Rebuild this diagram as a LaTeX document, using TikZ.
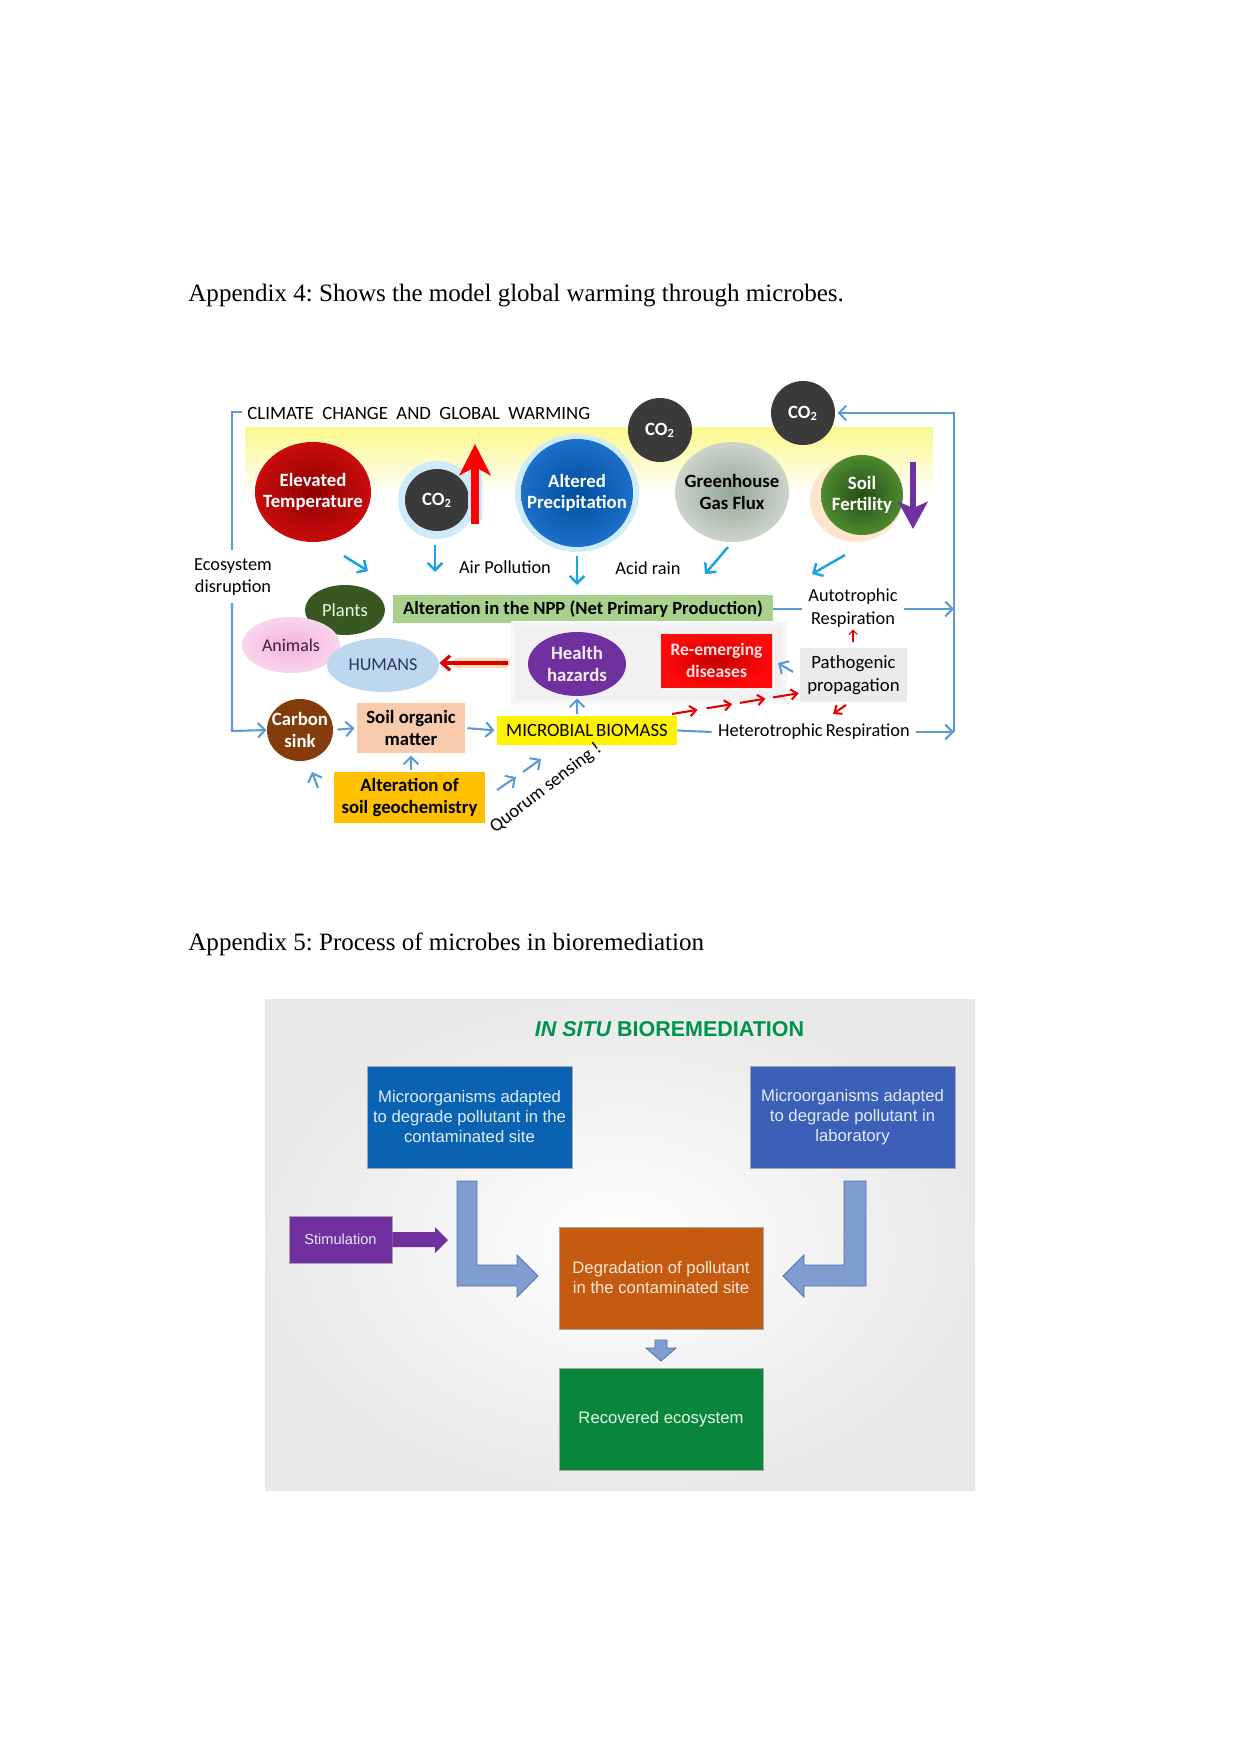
\documentclass[tikz,border=0pt]{standalone}
\usepackage{fontspec}
\setmainfont{Liberation Serif}
\newfontfamily\calfont{Carlito}
\newfontfamily\arifont{Liberation Sans}
\usetikzlibrary{shapes.geometric,arrows.meta,calc}
\definecolor{frameblue}{RGB}{91,155,213}
\definecolor{cyanarr}{RGB}{28,163,228}
\definecolor{co2grey}{RGB}{58,58,58}
\definecolor{nppgreen}{RGB}{169,209,142}
\definecolor{somskin}{RGB}{248,203,173}
\definecolor{geoorange}{RGB}{255,192,0}
\definecolor{healthpurple}{RGB}{112,48,160}
\definecolor{carbonbrown}{RGB}{132,60,12}
\definecolor{plantgreen}{RGB}{56,87,35}
\definecolor{humanblue}{RGB}{189,215,238}
\definecolor{animalpink}{RGB}{244,178,222}
\definecolor{elevin}{RGB}{145,0,0}
\definecolor{elevout}{RGB}{200,12,12}
\definecolor{precin}{RGB}{0,78,158}
\definecolor{precout}{RGB}{28,112,200}
\definecolor{ghgin}{RGB}{150,166,150}
\definecolor{ghgout}{RGB}{204,212,204}
\definecolor{soilin}{RGB}{38,78,20}
\definecolor{soilout}{RGB}{78,138,48}
\definecolor{reemin}{RGB}{200,0,0}
\definecolor{reemout}{RGB}{255,10,10}
\definecolor{yband}{RGB}{250,248,140}
\definecolor{leftblue}{RGB}{10,99,178}
\definecolor{rightblue}{RGB}{60,96,184}
\definecolor{stimpurple}{RGB}{112,48,160}
\definecolor{larrfill}{RGB}{127,157,208}
\definecolor{larrline}{RGB}{84,112,170}
\definecolor{degorange}{RGB}{197,90,17}
\definecolor{recgreen}{RGB}{8,135,60}
\definecolor{titlegreen}{RGB}{0,146,72}
\definecolor{lbtext}{RGB}{225,236,248}
\definecolor{ortext}{RGB}{253,233,217}
\definecolor{grtext}{RGB}{230,245,230}
\definecolor{humantext}{RGB}{40,55,90}
\definecolor{animaltext}{RGB}{60,30,60}
\tikzset{
  wh/.style 2 args={minimum width=#1*0.4795pt,minimum height=#2*0.4795pt},
  ftxt/.style={font=\calfont\fontsize{8.8}{10.7}\selectfont,align=center,inner sep=1pt},
  fbold/.style={font=\calfont\bfseries\fontsize{9}{10.2}\selectfont,align=center},
  fboldsm/.style={font=\calfont\bfseries\fontsize{9}{10.7}\selectfont,align=center},
  blob/.style={ellipse,inner xsep=-14pt,inner ysep=-8pt,align=center},
  rbox/.style={rectangle,inner sep=0pt,align=center},
  frame/.style={draw=frameblue,line width=1pt},
  farr/.style={frame,-{Straight Barb[length=3.5pt,width=7pt]}},
  carr/.style={draw=cyanarr,line width=1.2pt,-{Straight Barb[length=3.5pt,width=7pt]}},
  rarr/.style={draw=red!90!black,line width=1pt,-{Straight Barb[length=3pt,width=5pt]}},
  box2/.style={rectangle,inner sep=0pt,align=center,draw=black!35,line width=0.3pt,font=\arifont\fontsize{8}{9.6}\selectfont},
  blockarr/.style={fill=larrfill,draw=larrline,line width=0.4pt},
}
\begin{document}
\frenchspacing
\begin{tikzpicture}[x=0.4795pt,y=-0.4795pt]
\useasboundingbox (0,0) rectangle (1241,1754);
\fill[white] (0,0) rectangle (1241,1754);

% ---------- captions ----------
\node[anchor=base west,inner sep=0pt,font=\fontsize{12}{14}\selectfont] (cap4) at (188,302) {Appendix 4: Shows the model global warming through microbes.};
\node[anchor=base west,inner sep=0pt,font=\fontsize{12}{14}\selectfont] (cap5) at (188,950) {Appendix 5: Process of microbes in bioremediation};

% ---------- figure 1 ----------
\shade[top color=yband, bottom color=white] (245,428) rectangle (933,494);
\node[anchor=west,inner sep=0pt,font=\calfont\fontsize{9}{10}\selectfont] (cc) at (247,413) {CLIMATE\ \ CHANGE\ \ AND\ \ GLOBAL\ \ WARMING};

% glows
\fill[cyanarr!22] (437,500) circle[radius=39];
\fill[cyanarr!22] (577,493) ellipse[x radius=62,y radius=59];
\fill[orange!20] (856,500) ellipse[x radius=46,y radius=42];

\node[blob,wh={116}{100},shading=radial,inner color=elevin,outer color=elevout,text=white,fbold] (elev) at (313,492) {Elevated\\Temperature};
\node[blob,wh={64}{62},fill=co2grey,text=white,fbold] (co2a) at (437,500) {CO\textsubscript{2}};
\node[blob,wh={112}{108},shading=radial,inner color=precin,outer color=precout,text=white,fbold] (altp) at (577,493) {Altered\\Precipitation};
\node[blob,wh={64}{64},fill=co2grey,text=white,fbold] (co2b) at (660,430) {CO\textsubscript{2}};
\node[blob,wh={114}{100},shading=radial,inner color=ghgin,outer color=ghgout,text=black,fbold] (ghg) at (732,492) {Greenhouse\\Gas Flux};
\node[blob,wh={64}{64},fill=co2grey,text=white,fbold] (co2c) at (803,413) {CO\textsubscript{2}};
\node[blob,wh={82}{80},shading=radial,inner color=soilin,outer color=soilout,text=white,fbold] (soilf) at (862,495) {Soil\\Fertility};

\coordinate (redA) at (475,524);
\coordinate (redB) at (475,444);
\draw[cyanarr!25,line width=7pt] (475,520) -- (475,458);
\draw[red,line width=4pt,-{Stealth[length=15pt,width=15pt,inset=4pt]}] (redA) -- (redB);
\coordinate (purA) at (913,462);
\coordinate (purB) at (913,529);
\draw[healthpurple,line width=3pt,-{Stealth[length=13pt,width=14pt,inset=3pt]}] (purA) -- (purB);

% small cyan arrows
\coordinate (a1s) at (344,556); \coordinate (a1e) at (368,571);
\coordinate (a2s) at (435,545); \coordinate (a2e) at (435,572);
\coordinate (a3s) at (577,556); \coordinate (a3e) at (577,585);
\coordinate (a4s) at (728,547); \coordinate (a4e) at (705,574);
\coordinate (a5s) at (845,555); \coordinate (a5e) at (812,574);
\draw[carr] (a1s) -- (a1e);
\draw[carr] (a2s) -- (a2e);
\draw[carr] (a3s) -- (a3e);
\draw[carr] (a4s) -- (a4e);
\draw[carr] (a5s) -- (a5e);

\node[ftxt] (airp) at (505,567) {Air Pollution};
\node[ftxt] (acid) at (648,568) {Acid rain};
\node[ftxt] (eco) at (233,577) {Ecosystem\\disruption};

% blobs of the lower part
\node[blob,wh={80}{50},fill=plantgreen,text=white!88!green,font=\calfont\fontsize{8.9}{10}\selectfont] (plants) at (345,610) {Plants};
\node[blob,wh={98}{56},shading=radial,inner color=animalpink,outer color=animalpink!55,text=animaltext,font=\calfont\fontsize{8.6}{10}\selectfont] (animals) at (291,645) {Animals};
\node[blob,wh={112}{54},fill=humanblue,text=humantext,font=\calfont\fontsize{8.7}{10}\selectfont] (humans) at (383,665) {HUMANS};

\node[rbox,wh={380}{28},fill=nppgreen,font=\calfont\bfseries\fontsize{8.9}{10}\selectfont] (npp) at (583,609) {Alteration in the NPP (Net Primary Production)};
\node[ftxt] (auto) at (853,608) {Autotrophic\\Respiration};

% grey panel
\fill[gray!6] (511,621) rectangle (787,704);
\fill[gray!11] (515,625) rectangle (783,700);
\node[blob,wh={98}{64},fill=healthpurple,text=white!92!healthpurple,fbold] (health) at (577,664) {Health\\hazards};
\node[rbox,wh={111}{53},shading=radial,inner color=reemin,outer color=reemout,text=white!88!red,font=\calfont\bfseries\fontsize{8.4}{10.5}\selectfont] (reem) at (716.5,660.5) {Re-emerging\\diseases};
\node[rbox,wh={107}{54},fill=gray!16,font=\calfont\fontsize{9}{10.7}\selectfont] (patho) at (853.5,675) {Pathogenic\\propagation};

\coordinate (rglA) at (509,663);
\draw[orange!30,line width=5pt,line cap=round] (505,663) -- (458,663);
\draw[red!85!black,line width=1.5pt,-{Straight Barb[length=4pt,width=7pt]}] (health.west |- rglA) ++(-20,0) coordinate (rgs) -- (humans.east |- rglA);

\node[blob,wh={66}{62},fill=carbonbrown,text=white,fboldsm] (carbon) at (300,730) {Carbon\\sink};
\node[rbox,wh={108}{50},fill=somskin,fboldsm] (som) at (411,728) {Soil organic\\matter};
\node[rbox,wh={180}{29},fill=yellow,font=\calfont\fontsize{9}{10}\selectfont] (micro) at (587,730.5) {MICROBIAL\,BIOMASS};
\node[ftxt] (hetero) at (814,732) {Heterotrophic\,Respiration};
\node[rbox,wh={151}{51},fill=geoorange,fboldsm] (geo) at (409.5,797.5) {Alteration of\\soil geochemistry};
\node[rotate=37.6,font=\calfont\fontsize{9}{10}\selectfont,inner sep=0pt] (quorum) at (546,788) {Quorum sensing !};

% frame
\coordinate (fL0) at (242,412);
\coordinate (fL1) at (232,412);
\coordinate (fL2) at (232,550);
\coordinate (fL3) at (232,603);
\coordinate (fL4) at (232,731);
\coordinate (fRtop) at (954,413);
\coordinate (fRa) at (954,609);
\coordinate (fRh) at (954,732);
\draw[frame] (fL0) -- (fL1) -- (fL2);
\draw[farr] (fL3) -- (fL4) -- (carbon.west);
\draw[farr] (fRh) -- (fRtop) -- ([xshift=1pt]co2c.east);
\draw[frame] (npp.east) -- ([xshift=-2pt]auto.west |- npp.east);
\draw[farr] ([xshift=2pt]auto.east |- fRa) -- (fRa);
\draw[frame] (micro.east) -- ([xshift=-2pt]hetero.west);
\draw[farr] ([xshift=2pt]hetero.east) -- (fRh);
\draw[farr,shorten <=2pt,shorten >=1pt] (carbon.east) -- (som.west);
\draw[farr,shorten <=1pt,shorten >=1pt] (som.east) -- (micro.west);
\draw[farr,shorten <=1pt,shorten >=1pt] (geo.north -| som.south) -- (som.south);
\draw[farr,shorten <=1pt,shorten >=1pt] (micro.north -| health.south) -- (health.south);
\coordinate (gcs) at (318,788); \coordinate (gce) at (312,772);
\draw[farr] (gcs) -- (gce);
\coordinate (pr1) at (793,672); \coordinate (pr2) at (778,663);
\draw[farr] (pr1) -- (pr2);
\coordinate (q1s) at (497,790); \coordinate (q1e) at (516,777);
\coordinate (q2s) at (523,772); \coordinate (q2e) at (541,759);
\draw[farr] (q1s) -- (q1e);
\draw[farr] (q2s) -- (q2e);

% red arrows
\coordinate (rdA) at (672,714);
\coordinate (rdB) at (800,693);
\foreach \t in {0,0.27,0.53,0.79}{
  \draw[rarr] ($(rdA)!\t!(rdB)$) -- ($(rdA)!\t+0.2!(rdB)$);
}
\coordinate (rh1) at (846,705); \coordinate (rh2) at (833,714);
\draw[rarr] (rh1) -- (rh2);
\draw[draw=red!90!black,line width=0.5pt,-{Straight Barb[length=2pt,width=4pt]}] (patho.north -| auto.south) ++(0,-6) coordinate (ra1) -- (auto.south);

% ---------- figure 2 ----------
\shade[inner color=white,outer color=gray!17] (265,999) rectangle (975,1490);
\node[font=\arifont\bfseries\fontsize{10.3}{12}\selectfont,text=titlegreen,inner sep=0pt] (title2) at (669.5,1029) {{\itshape IN SITU} BIOREMEDIATION};

\node[box2,wh={205}{102},fill=leftblue,text=lbtext] (mleft) at (469.5,1117) {Microorganisms adapted\\to degrade pollutant in the\\contaminated site};
\node[box2,wh={205}{102},fill=rightblue,text=lbtext] (mright) at (852.5,1117) {Microorganisms adapted\\to degrade pollutant in\\laboratory};
\node[box2,wh={103}{47},fill=stimpurple,text=lbtext,font=\arifont\fontsize{7}{9}\selectfont] (stim) at (340.5,1239.5) {Stimulation};
\node[box2,wh={204}{102},fill=degorange,text=ortext] (degr) at (661,1278) {Degradation of pollutant\\in the contaminated site};
\node[box2,wh={204}{102},fill=recgreen,text=grtext] (recov) at (661,1419) {Recovered ecosystem};

% block arrows
\fill[stimpurple] (stim.east |- 0,1232) -- (435,1232) -- (435,1227) -- (448,1240) -- (435,1253) -- (435,1247) -- (stim.east |- 0,1247) -- cycle;
\draw[blockarr] (457,1181) -- (477,1181) -- (477,1265) -- (517,1265) -- (517,1255) -- (538,1276) -- (517,1297) -- (517,1286) -- (457,1286) -- cycle;
\draw[blockarr] (844,1181) -- (866,1181) -- (866,1286) -- (804,1286) -- (804,1297) -- (783,1276) -- (804,1255) -- (804,1265) -- (844,1265) -- cycle;
\draw[blockarr] (655,1340) -- (667,1340) -- (667,1348) -- (676,1348) -- (661,1361) -- (646,1348) -- (655,1348) -- cycle;
\end{tikzpicture}
\end{document}
